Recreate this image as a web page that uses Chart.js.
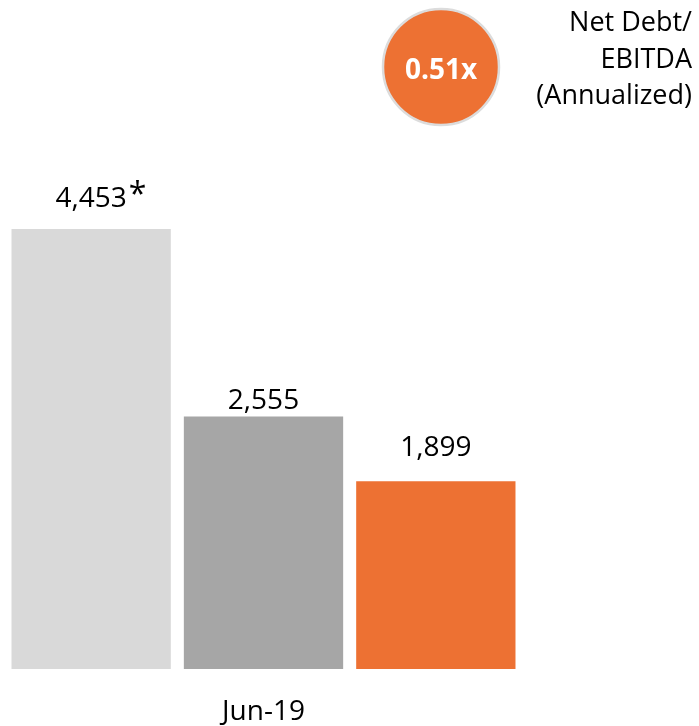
<!DOCTYPE html>
<html>
<head>
<meta charset="utf-8">
<script src="https://cdn.jsdelivr.net/npm/chart.js@4/dist/chart.umd.min.js"></script>
<style>
  html, body { margin: 0; padding: 0; background: #fff; }
  #wrap { position: relative; width: 699px; height: 726px; }
</style>
</head>
<body>
<div id="wrap"><canvas id="chart" width="699" height="726"></canvas></div>
<script>
// data
const categories = ["Jun-19"];
const seriesNames = ["Prior", "Mar-19", "Jun-19"];
const seriesValues = [4453, 2555, 1899];
const valueLabels = ["4,453", "2,555", "1,899"];
const labelNotes = ["*", "", ""];
const ratioText = "0.51x";
const ratioCaption = ["Net Debt/", "EBITDA", "(Annualized)"];

const barColors = ["#d9d9d9", "#a6a6a6", "#ed7133"];
const labelGap = [22, 8, 25]; // baseline distance above bar top

const font = "'Open Sans'";

// value labels above the bars
const valueLabelPlugin = {
  id: "valueLabels",
  afterDatasetsDraw(chart) {
    const ctx = chart.ctx;
    ctx.save();
    ctx.fillStyle = "#000";
    ctx.textBaseline = "alphabetic";
    chart.data.datasets.forEach((ds, i) => {
      const bar = chart.getDatasetMeta(i).data[0];
      const y = bar.y - labelGap[i];
      ctx.font = "28px " + font;
      ctx.textAlign = "center";
      ctx.fillText(valueLabels[i], bar.x, y);
      if (labelNotes[i]) {
        const w = ctx.measureText(valueLabels[i]).width;
        ctx.textAlign = "left";
        ctx.font = "32px " + font;
        ctx.fillText(labelNotes[i], bar.x + w / 2 + 2, y - 2);
      }
    });
    ctx.restore();
  }
};

// orange ratio bubble with caption on the right
const ratioPlugin = {
  id: "ratio",
  afterDraw(chart) {
    const ctx = chart.ctx;
    ctx.save();
    ctx.beginPath();
    ctx.arc(441, 67, 58, 0, Math.PI * 2);
    ctx.fillStyle = barColors[2];
    ctx.fill();
    ctx.lineWidth = 2.5;
    ctx.strokeStyle = "#dcdcdc";
    ctx.stroke();

    ctx.fillStyle = "#fff";
    ctx.font = "bold 28px " + font;
    ctx.textAlign = "center";
    ctx.textBaseline = "alphabetic";
    ctx.fillText(ratioText, 441, 79);

    ctx.fillStyle = "#000";
    ctx.font = "27px " + font;
    ctx.textAlign = "right";
    ratioCaption.forEach((line, i) => {
      ctx.fillText(line, 692, 31 + i * 36.5);
    });
    ctx.restore();
  }
};

new Chart(document.getElementById("chart"), {
  type: "bar",
  data: {
    labels: categories,
    datasets: seriesNames.map((name, i) => ({
      label: name,
      data: [seriesValues[i]],
      backgroundColor: barColors[i],
      borderWidth: 0,
      barPercentage: 159 / 172,
      categoryPercentage: 1
    }))
  },
  options: {
    responsive: false,
    animation: false,
    layout: { padding: { left: 5, right: 177, top: 0, bottom: 0 } },
    plugins: {
      legend: { display: false },
      tooltip: { enabled: false }
    },
    scales: {
      x: {
        grid: { display: false },
        border: { display: false },
        ticks: {
          color: "#000",
          font: { family: font, size: 28 },
          padding: 18
        },
        afterFit(scale) { scale.height = 57; }
      },
      y: {
        display: false,
        min: 0,
        max: 6770
      }
    }
  },
  plugins: [valueLabelPlugin, ratioPlugin]
});
</script>
</body>
</html>
